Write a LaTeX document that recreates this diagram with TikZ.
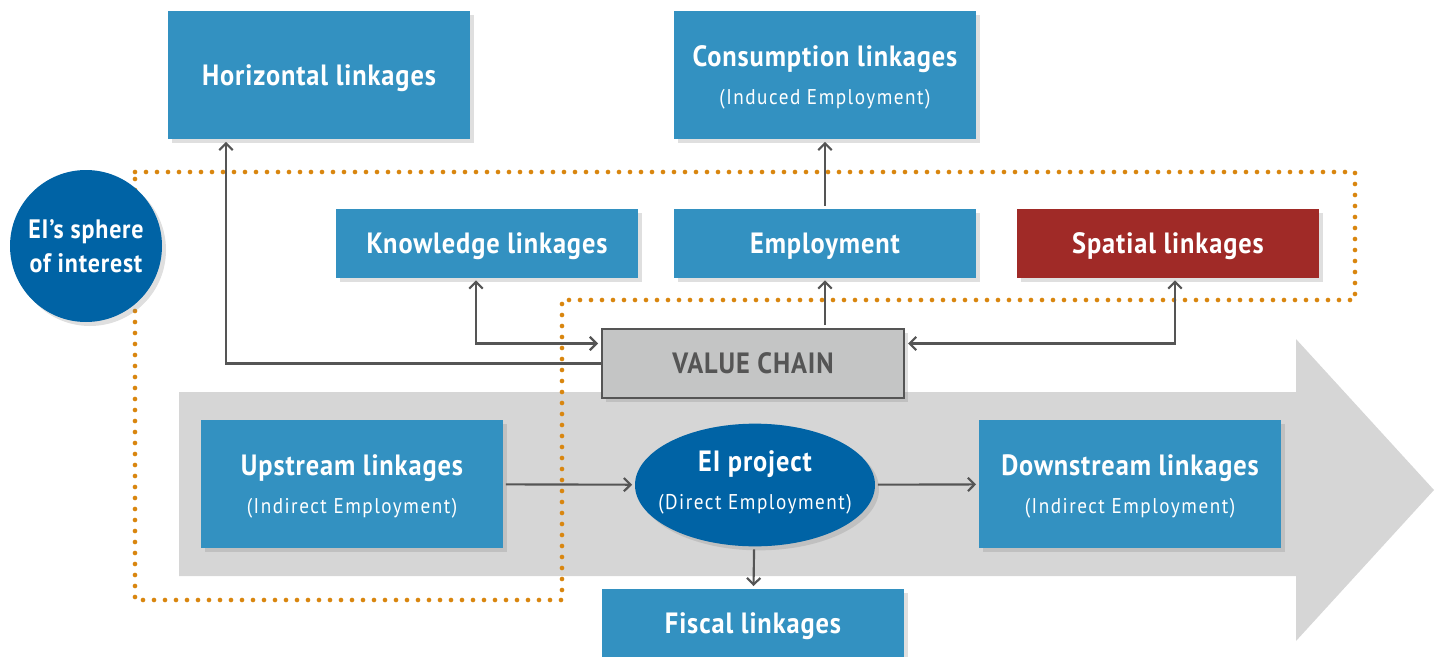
\documentclass[tikz,border=0pt]{standalone}
\usepackage{fontspec}
\setmainfont{PT Sans}[FakeStretch=0.9, LetterSpace=3]
\usetikzlibrary{shapes.geometric,shadows,arrows.meta,calc}

\definecolor{linkblue}{HTML}{3391C1}
\definecolor{eiblue}{HTML}{0063A5}
\definecolor{spatialred}{HTML}{A02A27}
\definecolor{chaingray}{HTML}{C4C5C5}
\definecolor{bandgray}{HTML}{D6D6D6}
\definecolor{dotorange}{HTML}{D9860F}
\definecolor{wiregray}{HTML}{555555}

\newcommand{\subtext}[1]{{\mdseries\fontsize{16}{18}\selectfont\addfontfeature{LetterSpace=7}#1}}

\begin{document}
\begin{tikzpicture}[x=0.75pt, y=-0.75pt,
        linkbox/.style = {shape=rectangle, fill=linkblue, text=white, align=center,
            minimum width=226.5pt, minimum height=51.75pt, inner sep=0pt, text depth=0pt,
            font=\bfseries\fontsize{22}{24}\selectfont,
            drop shadow={shadow xshift=3pt, shadow yshift=-3pt, opacity=0.25}},
        tallbox/.style = {linkbox, minimum height=96pt},
        chainbox/.style = {linkbox, fill=chaingray, text=wiregray,
            draw=wiregray, line width=2pt},
        eiproj/.style = {shape=ellipse, fill=eiblue, text=white, align=center,
            minimum width=180pt, minimum height=92pt, inner xsep=-12pt, inner ysep=0pt,
            text depth=8pt, font=\bfseries\fontsize{22}{24}\selectfont,
            drop shadow={shadow xshift=3pt, shadow yshift=-3pt, opacity=0.25}},
        sphere/.style = {eiproj, shape=circle, minimum size=114pt, inner sep=0pt,
            text depth=0pt, font=\bfseries\fontsize{20}{26}\selectfont},
        wire/.style = {draw=wiregray, line width=1.6pt, shorten >=2pt, shorten <=2pt},
        oneway/.style = {wire, -{Straight Barb[length=5pt, width=10pt]}},
        twoway/.style = {wire, {Straight Barb[length=5pt, width=10pt]}-{Straight Barb[length=5pt, width=10pt]}}]
    \useasboundingbox (0,0) rectangle (1440,657);
    % value chain band
    \fill[bandgray] (179,392) -- (1296,392) -- (1296,339) -- (1434,490)
        -- (1296,641) -- (1296,576) -- (179,576) -- cycle;
    % sphere of interest
    \draw[dotorange, line width=3.5pt, line cap=round, dash pattern=on 0pt off 8.25pt]
        (135,172) -- (1355,172) -- (1355,300) -- (562,300) -- (562,600)
        -- (135,600) -- cycle;

    \node[tallbox] (horiz) at (319,75) {Horizontal linkages};
    \node[tallbox] (consum) at (825,75) {Consumption linkages\\[4.5pt]\subtext{(Induced Employment)}};
    \node[linkbox] (know) at (487,243) {Knowledge linkages};
    \node[linkbox] (employ) at (825,243) {Employment};
    \node[linkbox, fill=spatialred] (spatial) at (1168,243) {Spatial linkages};
    \node[chainbox] (chain) at (753,363.5) {VALUE CHAIN};
    \node[tallbox] (up) at (352,484) {Upstream linkages\\[4.5pt]\subtext{(Indirect Employment)}};
    \node[eiproj] (ei) at (755,485) {EI project\\[4.5pt]\subtext{(Direct Employment)}};
    \node[tallbox] (down) at (1130,484) {Downstream linkages\\[4.5pt]\subtext{(Indirect Employment)}};
    \node[linkbox] (fiscal) at (753,623.5) {Fiscal linkages};
    \node[sphere] (sphere) at (86,246) {EI’s sphere\\of interest};

    \draw[oneway, shorten <=0pt] (chain.west) -| ($(horiz.south)+(-93,0)$);
    \draw[twoway] ($(know.south)+(-11,0)$) |- ($(chain.west)+(0,-20)$);
    \draw[twoway] ($(spatial.south)+(7,0)$) |- ($(chain.east)+(0,-20)$);
    \draw[oneway] (employ.south |- chain.north) -- (employ.south);
    \draw[oneway] (employ.north) -- (consum.south);
    \draw[oneway] (up) -- (ei);
    \draw[oneway] (ei) -- (down);
    \draw[oneway] (ei) -- (fiscal);
\end{tikzpicture}
\end{document}
